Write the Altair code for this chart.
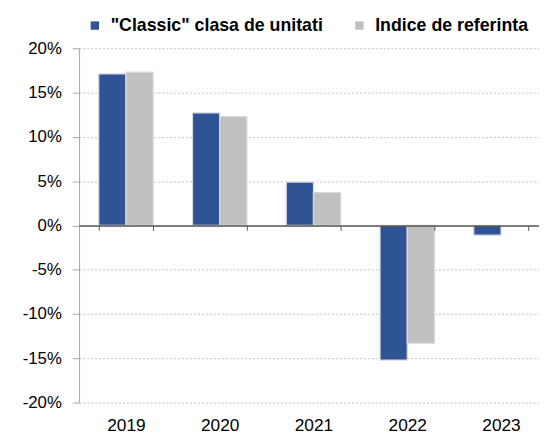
import altair as alt
import pandas as pd

years = ["2019", "2020", "2021", "2022", "2023"]
classic = [17.1, 12.7, 4.9, -15.2, -1.1]
index_ref = [17.3, 12.3, 3.7, -13.3, None]
series_names = ['"Classic" clasa de unitati', "Indice de referinta"]
colors = ["#2E5496", "#C0C0C0"]
y_ticks = [-0.20, -0.15, -0.10, -0.05, 0.0, 0.05, 0.10, 0.15, 0.20]

rows = []
for i, yr in enumerate(years):
    for name, vals in zip(series_names, [classic, index_ref]):
        v = vals[i]
        rows.append({"year": yr, "series": name, "value": None if v is None else v / 100.0})
df = pd.DataFrame(rows)

FONT = "Liberation Sans"

chart = alt.Chart(df).mark_bar(stroke="#d9d9d9", strokeWidth=1.2).encode(
    x=alt.X(
        "year:N",
        sort=years,
        scale=alt.Scale(range=[0, 475], paddingInner=0.42, paddingOuter=0.21),
        axis=alt.Axis(
            orient="bottom", offset=-179.5, title=None, grid=False, labelAngle=0,
            domainColor="#595959", domainWidth=1.5, tickColor="#595959",
            tickSize=5, tickWidth=1, tickBand="extent", labelPadding=189,
            labelFontSize=17.5, labelFont=FONT, labelColor="black", zindex=1,
        ),
    ),
    xOffset=alt.XOffset("series:N", sort=series_names,
                        scale=alt.Scale(paddingInner=0, paddingOuter=0)),
    y=alt.Y(
        "value:Q",
        scale=alt.Scale(domain=[-0.2, 0.2], nice=False),
        axis=alt.Axis(
            values=y_ticks, title=None, labelExpr="round(datum.value*100) + '%'",
            domainColor="#a6a6a6", domainWidth=1, tickColor="#a6a6a6", tickSize=7,
            labelPadding=11, labelFontSize=17, labelFont=FONT, labelColor="black",
            gridColor="#c0c0c0", gridDash=[2, 2], gridWidth=1,
        ),
    ),
    color=alt.Color(
        "series:N",
        sort=series_names,
        scale=alt.Scale(domain=series_names, range=colors),
        legend=alt.Legend(
            title=None, orient="none", legendX=7, legendY=-32, direction="horizontal",
            symbolType="square", symbolSize=72, symbolStrokeWidth=0,
            labelFontSize=18, labelFont=FONT, labelFontWeight="bold", labelColor="black",
            labelOffset=7, labelLimit=0, columnPadding=27, padding=0,
        ),
    ),
).properties(
    width=466, height=359,
    autosize=alt.AutoSizeParams(type="none"),
    padding={"left": 72, "top": 38, "right": 0, "bottom": 29},
).configure_view(stroke=None)

chart.save("out.html", embed_options={"renderer": "svg", "actions": False})
